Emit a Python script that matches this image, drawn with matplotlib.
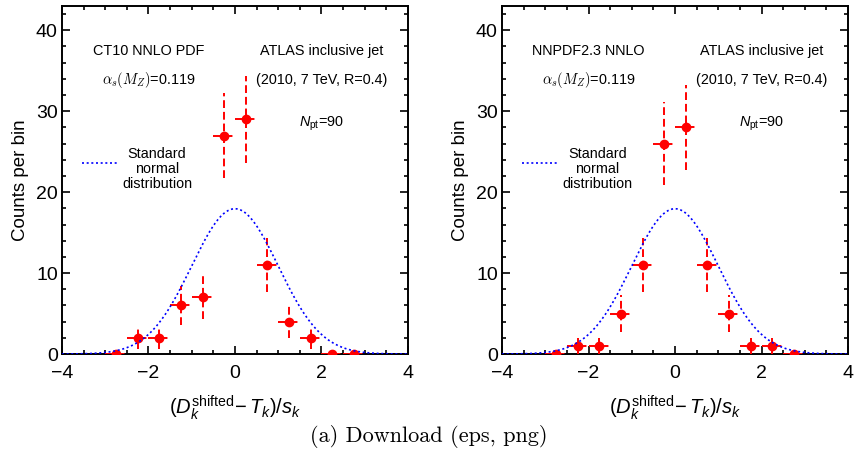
import numpy as np
import matplotlib
matplotlib.use('Agg')
import matplotlib.pyplot as plt
from matplotlib.ticker import MultipleLocator

plt.rcParams['font.family'] = ['Liberation Sans', 'DejaVu Sans']
plt.rcParams['mathtext.fontset'] = 'custom'
plt.rcParams['mathtext.rm'] = 'Liberation Sans'
plt.rcParams['mathtext.it'] = 'Liberation Sans:italic'

# Data
bin_centers = [-2.75, -2.25, -1.75, -1.25, -0.75, -0.25, 0.25, 0.75, 1.25, 1.75, 2.25, 2.75]
counts_ct10 = [0, 2, 2, 6, 7, 27, 29, 11, 4, 2, 0, 0]
counts_nnpdf = [0, 1, 1, 5, 11, 26, 28, 11, 5, 1, 1, 0]
bin_width = 0.5
n_points = 90

panels = [
    ('CT10 NNLO PDF', counts_ct10),
    ('NNPDF2.3 NNLO', counts_nnpdf),
]

fig = plt.figure(figsize=(8.57, 4.61), dpi=100)
axes = [fig.add_axes([0.0723, 0.232, 0.4037, 0.755]),
        fig.add_axes([0.5858, 0.232, 0.4037, 0.755])]

xg = np.linspace(-4, 4, 400)
gauss = n_points * bin_width / np.sqrt(2 * np.pi) * np.exp(-xg ** 2 / 2)

for ax, (pdf_name, counts) in zip(axes, panels):
    c = np.array(counts, dtype=float)
    ax.plot(xg, gauss, color='blue', linestyle=(0, (1.2, 1.6)), lw=1.2, zorder=4)
    eb = ax.errorbar(bin_centers, c, xerr=bin_width / 2, yerr=np.sqrt(c),
                     fmt='o', color='red', ms=6, elinewidth=1.4, capsize=0, zorder=3)
    eb[2][0].set_linestyle((0, (4, 2)))
    eb[2][1].set_linestyle((0, (4, 2)))

    ax.set_xlim(-4, 4)
    ax.set_ylim(0, 43)
    ax.xaxis.set_major_locator(MultipleLocator(2))
    ax.xaxis.set_minor_locator(MultipleLocator(0.5))
    ax.yaxis.set_major_locator(MultipleLocator(10))
    ax.yaxis.set_minor_locator(MultipleLocator(2))
    ax.tick_params(which='both', direction='in', top=True, right=True, labelsize=14, width=1.2)
    ax.tick_params(which='major', length=6)
    ax.tick_params(which='minor', length=3)
    ax.tick_params(axis='x', which='major', pad=8)
    ax.tick_params(axis='y', which='major', pad=3)
    for s in ax.spines.values():
        s.set_linewidth(1.4)

    ax.set_ylabel('Counts per bin', fontsize=13.5, labelpad=5)
    ax.set_xlabel(r'$(D_k^{\mathrm{shifted}}\!-T_k)/s_k$', fontsize=14.5, labelpad=8)

    ax.text(-2.0, 37.4, pdf_name, ha='center', va='center', fontsize=10.4)
    ax.text(2.0, 37.4, 'ATLAS inclusive jet', ha='center', va='center', fontsize=10.4)
    ax.text(-2.0, 33.8, r'$\alpha_s(M_Z)$=0.119', ha='center', va='center', fontsize=10.4,
            math_fontfamily='cm')
    ax.text(2.0, 33.8, '(2010, 7 TeV, R=0.4)', ha='center', va='center', fontsize=10.4)
    ax.text(2.0, 28.5, r'$N_{\mathrm{pt}}$=90', ha='center', va='center', fontsize=10.4)
    ax.plot([-3.54, -2.73], [23.6, 23.6], color='blue', linestyle=(0, (1.2, 1.6)), lw=1.2)
    ax.text(-1.8, 22.9, 'Standard\nnormal\ndistribution', ha='center', va='center',
            fontsize=10.4, linespacing=1.1)

fig.text(0.5, 0.054, '(a) Download (eps, png)', ha='center', va='center',
         fontsize=16, family=['cmr10', 'DejaVu Serif'])

fig.savefig('out.png', dpi=100)
